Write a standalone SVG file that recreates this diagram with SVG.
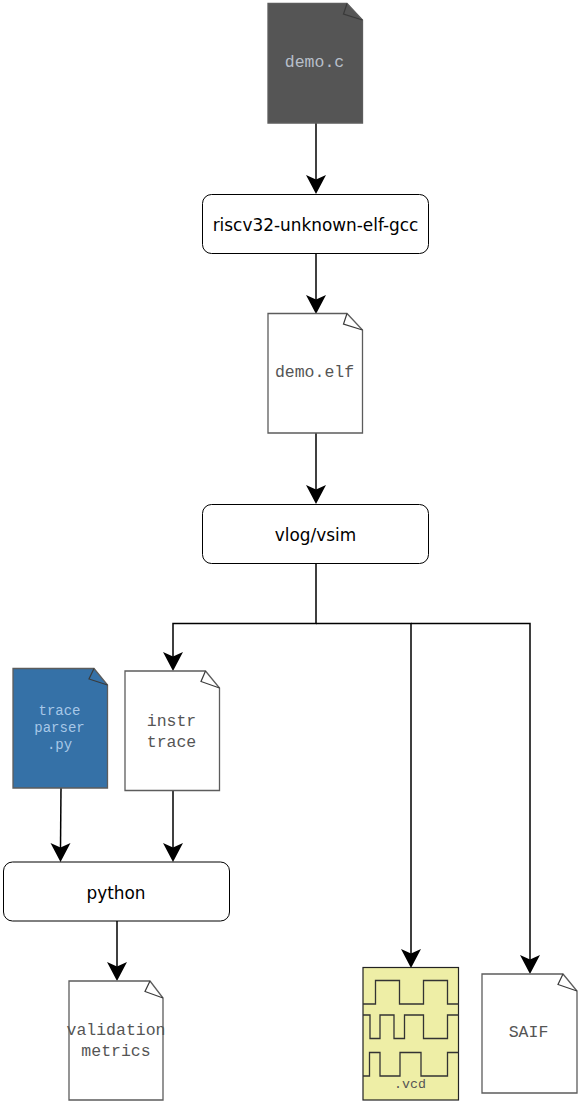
<svg xmlns="http://www.w3.org/2000/svg" width="581" height="1107" viewBox="0 0 581 1107">
<style>
.doc{stroke:#5c5c5c;stroke-width:1.300;fill:#fff}
.fold{fill:none;stroke:#3a3a3a;stroke-width:1.200}
.box{fill:#fff;stroke:#000;stroke-width:1}
.lab{font-family:"DejaVu Sans",sans-serif;font-size:16.900px;fill:#000;text-anchor:middle}
.mono{font-family:"Liberation Mono",monospace;font-size:16.500px;fill:#555;text-anchor:middle}
.small{font-size:14px;fill:#a8c8e8}
.edge{fill:none;stroke:#000;stroke-width:1.500}
</style>
<rect width="581" height="1107" fill="#fff"/>
<g id="connectors">
<path class="edge" d="M316 123V180"/><path d="M306 175L316 194L326 175L316 179.500Z"/>
<path class="edge" d="M316 254V300"/><path d="M306 295L316 314L326 295L316 299.500Z"/>
<path class="edge" d="M316 433V490"/><path d="M306 485L316 504L326 485L316 489.500Z"/>
<path class="edge" d="M316 564V623.500H173V657"/><path d="M163 652L173 671L183 652L173 656.500Z"/>
<path class="edge" d="M316 623.500H411V954"/><path d="M401 949L411 968L421 949L411 953.500Z"/>
<path class="edge" d="M411 623.500H530V960"/><path d="M520 955L530 974L540 955L530 959.500Z"/>
<path class="edge" d="M61 788L60.500 848"/><path d="M50.500 843L60.500 862L70.500 843L60.500 847.500Z"/>
<path class="edge" d="M173 791V848"/><path d="M163 843L173 862L183 843L173 847.500Z"/>
<path class="edge" d="M117 921V967"/><path d="M107 962L117 981L127 962L117 966.500Z"/>
</g>
<g id="demo-c"><path class="doc" style="fill:#555" d="M268 3.500H347L362.500 20V123H268Z"/><path class="fold" d="M347 3.500L343.500 14L362.500 20"/><text class="mono" style="fill:#b8bfca" x="314.500" y="67">demo.c</text></g>
<g id="gcc"><rect class="box" x="202.500" y="194.500" width="226" height="59" rx="9"/><text class="lab" x="315.500" y="231">riscv32-unknown-elf-gcc</text></g>
<g id="demo-elf"><path class="doc" d="M268 313.500H347L362.500 330V433H268Z"/><path class="fold" d="M347 313.500L343.500 324L362.500 330"/><text class="mono" x="314.500" y="377">demo.elf</text></g>
<g id="vsim"><rect class="box" x="202.500" y="504.500" width="226" height="59" rx="9"/><text class="lab" x="315.500" y="541">vlog/vsim</text></g>
<g id="trace-parser"><path class="doc" style="fill:#3571a7" d="M13 668.500H94L107.500 685V788H13Z"/><path class="fold" d="M94 668.500L89 679L107.500 685"/><text class="mono small" x="59.500" y="715">trace</text><text class="mono small" x="59.500" y="732">parser</text><text class="mono small" x="59.500" y="749">.py</text></g>
<g id="instr-trace"><path class="doc" d="M125 671H205.500L219.500 688V790.500H125Z"/><path class="fold" d="M205.500 671L201 681.500L219.500 688"/><text class="mono" x="171.500" y="725.500">instr</text><text class="mono" x="171.500" y="746.500">trace</text></g>
<g id="python"><rect class="box" x="3.500" y="862" width="226" height="59" rx="9"/><text class="lab" x="116" y="899">python</text></g>
<g id="validation"><path class="doc" d="M69 981H150L163 998V1100H69Z"/><path class="fold" d="M150 981L145 991.500L163 998"/><text class="mono" x="116" y="1035">validation</text><text class="mono" x="116" y="1056">metrics</text></g>
<g id="vcd"><rect x="363" y="967.500" width="95.500" height="132.500" fill="#eeeea6" stroke="#222" stroke-width="1.200"/><path d="M363 1004H375.500V980.500H399.500V1004H423.500V980.500H447.500V1004H458.500M363 1015H370V1038.500H380V1015H394V1038.500H404.500V1015H423.500V1038.500H447.500V1015H458.500M363 1076H369.500V1052.500H380V1076H400V1052.500H421V1076H447.500V1052.500H458.500" fill="none" stroke="#333" stroke-width="1.300"/><text class="mono" style="font-size:13.300px" x="410" y="1088">.vcd</text></g>
<g id="saif"><path class="doc" d="M482 974H563L577 991V1093H482Z"/><path class="fold" d="M563 974L558 984.500L577 991"/><text class="mono" x="528.500" y="1037">SAIF</text></g>
</svg>
